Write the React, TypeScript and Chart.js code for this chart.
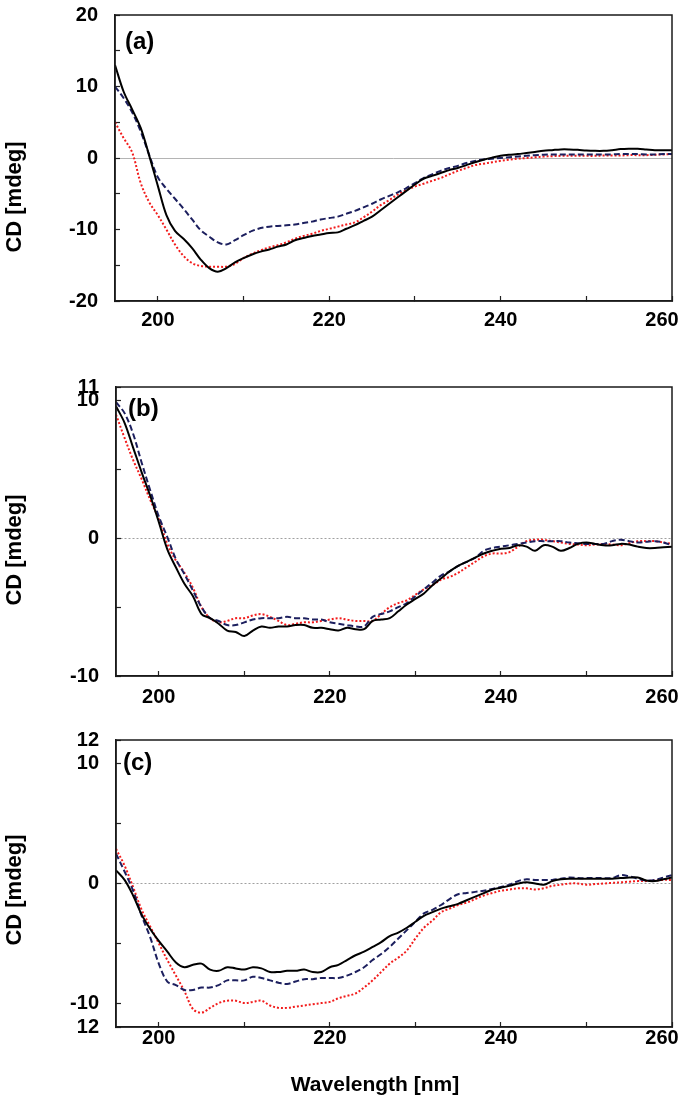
import React, { useEffect, useRef } from 'react';
import { Chart, registerables } from 'chart.js';

Chart.register(...registerables);

const FONT = "'Liberation Sans', Arial, Helvetica, sans-serif";

// Wavelength grid (nm)
const WAVELENGTHS = [
  195, 196, 197, 198, 199, 200, 201, 202, 203, 204,
  205, 206, 207, 208, 209, 210, 211, 212, 213, 214,
  215, 216, 217, 218, 219, 220, 221, 222, 223, 224,
  225, 226, 227, 228, 229, 230, 231, 232, 233, 234,
  235, 236, 237, 238, 239, 240, 241, 242, 243, 244,
  245, 246, 247, 248, 249, 250, 251, 252, 253, 254,
  255, 256, 257, 258, 259, 260,
];

const X_TICKS = [200, 210, 220, 230, 240, 250, 260];
const X_TICK_LABELS = ['200', '', '220', '', '240', '', '260\u2002\u2002'];

// Panel (a)
const A_BLACK = [
  13.0, 9.3, 6.8, 4.2, 0.3, -3.9, -8.0, -10.2, -11.3, -12.6,
  -14.2, -15.4, -15.9, -15.4, -14.6, -14.0, -13.5, -13.1, -12.8, -12.4,
  -12.1, -11.5, -11.2, -10.9, -10.7, -10.5, -10.4, -9.9, -9.4, -8.8,
  -8.2, -7.3, -6.4, -5.5, -4.6, -3.7, -2.9, -2.5, -2.1, -1.7,
  -1.4, -1.0, -0.6, -0.25, 0.05, 0.3, 0.45, 0.55, 0.7, 0.85,
  1.0, 1.1, 1.2, 1.2, 1.15, 1.05, 1.0, 1.0, 1.1, 1.25,
  1.3, 1.3, 1.2, 1.1, 1.1, 1.1,
];
const A_NAVY = [
  10.0, 8.4, 6.4, 3.7, 0.4, -2.7, -4.3, -5.7, -7.1, -8.6,
  -10.1, -11.0, -11.8, -12.1, -11.5, -10.8, -10.2, -9.8, -9.6, -9.5,
  -9.4, -9.3, -9.1, -8.9, -8.6, -8.4, -8.2, -7.8, -7.4, -6.9,
  -6.4, -5.8, -5.3, -4.8, -4.2, -3.5, -2.8, -2.3, -1.8, -1.4,
  -1.1, -0.7, -0.4, -0.2, -0.1, 0.0, 0.1, 0.2, 0.3, 0.4,
  0.45, 0.5, 0.5, 0.5, 0.5, 0.5, 0.5, 0.5, 0.5, 0.55,
  0.55, 0.55, 0.5, 0.5, 0.55, 0.55,
];
const A_RED = [
  5.0, 2.8, 0.8, -3.5, -6.2, -8.0, -10.0, -12.1, -13.7, -14.7,
  -15.1, -15.2, -15.2, -15.2, -14.8, -14.0, -13.4, -12.9, -12.5, -12.2,
  -11.8, -11.3, -10.9, -10.6, -10.2, -9.9, -9.6, -9.3, -9.0, -8.3,
  -7.5, -6.6, -5.9, -5.1, -4.5, -4.0, -3.6, -3.2, -2.8, -2.3,
  -1.8, -1.4, -1.0, -0.8, -0.6, -0.4, -0.25, -0.1, 0.0, 0.1,
  0.2, 0.25, 0.3, 0.3, 0.3, 0.3, 0.3, 0.35, 0.35, 0.35,
  0.4, 0.4, 0.4, 0.45, 0.5, 0.55,
];
const A_Y_TICKS = [-20, -15, -10, -5, 0, 5, 10, 15, 20];
const A_Y_LABELS = ['-20', '', '-10', '', '0', '', '10', '', '20'];

// Panel (b)
const B_BLACK = [
  9.6, 8.4, 6.6, 4.8, 3.1, 1.2, -0.8, -2.1, -3.3, -4.2,
  -5.5, -5.8, -6.2, -6.7, -6.8, -7.1, -6.7, -6.4, -6.5, -6.4,
  -6.4, -6.3, -6.3, -6.5, -6.5, -6.6, -6.7, -6.5, -6.6, -6.6,
  -6.0, -5.9, -5.8, -5.3, -4.8, -4.4, -4.0, -3.4, -2.9, -2.4,
  -2.0, -1.7, -1.4, -1.1, -0.9, -0.75, -0.7, -0.5, -0.6, -0.9,
  -0.5, -0.6, -0.9, -0.7, -0.4, -0.3, -0.4, -0.5, -0.5, -0.4,
  -0.45, -0.6, -0.7, -0.7, -0.65, -0.6,
];
const B_NAVY = [
  9.9, 9.1, 7.6, 5.5, 3.5, 1.6, 0.1, -1.5, -2.6, -3.8,
  -5.0, -5.8, -6.0, -6.3, -6.3, -6.1, -5.9, -5.8, -5.8, -5.8,
  -5.7, -5.8, -5.8, -5.9, -5.9, -6.1, -6.2, -6.3, -6.4, -6.4,
  -5.7, -5.5, -5.3, -5.0, -4.7, -4.2, -3.7, -3.2, -2.7, -2.4,
  -2.0, -1.7, -1.4, -0.9, -0.7, -0.6, -0.5, -0.4, -0.3, -0.2,
  -0.2, -0.2, -0.2, -0.3, -0.35, -0.4, -0.4, -0.4, -0.2, -0.1,
  -0.2, -0.3, -0.25, -0.2, -0.3, -0.5,
];
const B_RED = [
  9.0, 7.3, 5.7, 4.3, 2.8, 1.4, -0.4, -1.6, -2.5, -3.6,
  -5.0, -5.8, -6.1, -6.0, -5.8, -5.8, -5.6, -5.5, -5.7, -6.0,
  -6.3, -6.2, -6.1, -6.1, -6.0, -5.9, -5.8, -5.9, -6.0, -6.0,
  -6.0, -5.5, -5.0, -4.7, -4.5, -4.1, -3.7, -3.4, -3.0, -2.8,
  -2.5, -2.1, -1.7, -1.3, -1.1, -1.1, -1.0, -0.6, -0.2, -0.1,
  -0.1, -0.2, -0.3, -0.4, -0.45, -0.5, -0.45, -0.4, -0.45, -0.5,
  -0.35, -0.2, -0.2, -0.2, -0.3, -0.4,
];
const B_Y_TICKS = [-10, -5, 0, 5, 10, 11];
const B_Y_LABELS = ['-10', '', '0', '', '10', '11'];

// Panel (c)
const C_BLACK = [
  1.1, 0.3, -1.0, -2.6, -3.8, -4.8, -5.7, -6.6, -7.0, -6.8,
  -6.7, -7.2, -7.3, -7.0, -7.1, -7.2, -7.0, -7.1, -7.4, -7.4,
  -7.3, -7.3, -7.2, -7.4, -7.4, -7.0, -6.8, -6.4, -6.0, -5.7,
  -5.3, -4.9, -4.4, -4.1, -3.7, -3.2, -2.7, -2.4, -2.1, -1.9,
  -1.7, -1.4, -1.1, -0.8, -0.5, -0.35, -0.2, 0.0, 0.1, 0.0,
  -0.1, 0.2, 0.35, 0.4, 0.4, 0.4, 0.4, 0.4, 0.4, 0.45,
  0.5, 0.5, 0.25, 0.2, 0.35, 0.5,
];
const C_NAVY = [
  2.5, 1.0, -0.6, -2.7, -4.5, -6.7, -8.2, -8.5, -8.9, -8.9,
  -8.7, -8.7, -8.5, -8.1, -8.1, -8.1, -7.8, -7.9, -8.1, -8.3,
  -8.4, -8.2, -8.0, -8.0, -7.9, -7.9, -7.9, -7.7, -7.4, -7.0,
  -6.4, -5.9, -5.3, -4.6, -3.9, -3.2, -2.5, -2.2, -1.8, -1.3,
  -0.9, -0.8, -0.7, -0.6, -0.45, -0.3, -0.1, 0.2, 0.35, 0.3,
  0.3, 0.3, 0.4, 0.5, 0.45, 0.45, 0.45, 0.45, 0.45, 0.7,
  0.6, 0.4, 0.25, 0.3, 0.5, 0.7,
];
const C_RED = [
  2.9, 1.5, -0.3, -2.2, -3.6, -5.0, -6.4, -7.7, -9.0, -10.5,
  -10.8, -10.4, -10.0, -9.8, -9.8, -10.0, -9.9, -9.8, -10.2, -10.4,
  -10.4, -10.3, -10.2, -10.1, -10.0, -9.9, -9.6, -9.4, -9.2, -8.7,
  -8.1, -7.4, -6.7, -6.2, -5.6, -4.6, -3.7, -3.1, -2.4, -2.1,
  -1.8, -1.6, -1.3, -1.0, -0.8, -0.6, -0.5, -0.4, -0.4, -0.5,
  -0.4, -0.2, -0.1, 0.0, 0.0, -0.1, -0.05, 0.0, 0.05, 0.1,
  0.15, 0.2, 0.2, 0.25, 0.3, 0.3,
];
const C_Y_TICKS = [-12, -10, -5, 0, 5, 10, 12];
const C_Y_LABELS = ['12', '-10', '', '0', '', '10', '12'];

type PanelCfg = {
  top: number;
  height: number;
  padTop: number;
  axisLeft: number;
  xAxisH: number;
  xPad: number;
  yMin: number;
  yMax: number;
  yTicks: number[];
  yLabels: string[];
  black: number[];
  navy: number[];
  red: number[];
  zeroColor: string;
  zeroDash: number[];
};

const PANELS: PanelCfg[] = [
  {
    top: 0, height: 340, padTop: 15, axisLeft: 115, xAxisH: 39, xPad: 12,
    yMin: -20, yMax: 20, yTicks: A_Y_TICKS, yLabels: A_Y_LABELS,
    black: A_BLACK, navy: A_NAVY, red: A_RED, zeroColor: '#b4b4b4', zeroDash: [],
  },
  {
    top: 340, height: 370, padTop: 47, axisLeft: 116, xAxisH: 34, xPad: 14,
    yMin: -10, yMax: 11, yTicks: B_Y_TICKS, yLabels: B_Y_LABELS,
    black: B_BLACK, navy: B_NAVY, red: B_RED, zeroColor: '#a0a0a0', zeroDash: [2, 2],
  },
  {
    top: 710, height: 387, padTop: 30, axisLeft: 116, xAxisH: 70, xPad: 4,
    yMin: -12, yMax: 12, yTicks: C_Y_TICKS, yLabels: C_Y_LABELS,
    black: C_BLACK, navy: C_NAVY, red: C_RED, zeroColor: '#a0a0a0', zeroDash: [2, 2],
  },
];

const framePlugin = {
  id: 'frame',
  afterDraw(chart: any) {
    const { ctx, chartArea } = chart;
    const { left, top, right, bottom } = chartArea;
    ctx.save();
    ctx.strokeStyle = '#1a1a1a';
    ctx.lineWidth = 1.5;
    ctx.strokeRect(left, top, right - left, bottom - top);
    ctx.restore();
  },
};

function Panel({ cfg }: { cfg: PanelCfg }) {
  const ref = useRef<HTMLCanvasElement | null>(null);
  useEffect(() => {
    if (!ref.current) return;
    const pts = (arr: number[]) => WAVELENGTHS.map((x, i) => ({ x, y: arr[i] }));
    const tickFont = { family: FONT, size: 20, weight: 'bold' as const };
    const chart = new Chart(ref.current, {
      type: 'line',
      data: {
        datasets: [
          { data: pts(cfg.black), borderColor: '#000000', borderWidth: 2, pointRadius: 0, tension: 0.35, fill: false },
          { data: pts(cfg.navy), borderColor: '#1c1f5e', borderWidth: 2, borderDash: [6, 3], pointRadius: 0, tension: 0.35, fill: false },
          { data: pts(cfg.red), borderColor: '#f21c1c', borderWidth: 2, borderDash: [2, 2], pointRadius: 0, tension: 0.35, fill: false },
        ],
      },
      options: {
        animation: false,
        responsive: false,
        devicePixelRatio: 1,
        layout: { padding: { top: cfg.padTop, right: 8, left: 0, bottom: 0 } },
        plugins: { legend: { display: false }, tooltip: { enabled: false } },
        scales: {
          x: {
            type: 'linear',
            min: 195,
            max: 260,
            afterBuildTicks: (s: any) => { s.ticks = X_TICKS.map((v) => ({ value: v })); },
            afterFit: (s: any) => { s.height = cfg.xAxisH; s.paddingLeft = 0; s.paddingRight = 0; },
            ticks: {
              autoSkip: false, maxRotation: 0, minRotation: 0, padding: cfg.xPad,
              color: '#000', font: tickFont,
              callback: (_v: any, i: number) => X_TICK_LABELS[i],
            },
            grid: { drawOnChartArea: false, tickLength: -5, tickColor: '#222', tickWidth: 1.2 },
            border: { display: true, color: '#1a1a1a', width: 1.5 },
          },
          y: {
            type: 'linear',
            min: cfg.yMin,
            max: cfg.yMax,
            afterBuildTicks: (s: any) => { s.ticks = cfg.yTicks.map((v) => ({ value: v })); },
            afterFit: (s: any) => { s.width = cfg.axisLeft; s.paddingTop = 0; s.paddingBottom = 0; },
            ticks: {
              autoSkip: false, padding: 22, color: '#000', font: tickFont,
              callback: (_v: any, i: number) => cfg.yLabels[i],
            },
            grid: {
              drawOnChartArea: true,
              color: (c: any) => (c.tick && c.tick.value === 0 ? cfg.zeroColor : 'rgba(0,0,0,0)'),
              lineWidth: 1,
              tickLength: -5,
              tickColor: '#222',
              tickWidth: 1.2,
            },
            border: { display: true, color: '#1a1a1a', width: 1.5, dash: cfg.zeroDash },
          },
        },
      },
      plugins: [framePlugin],
    } as any);
    return () => chart.destroy();
  }, [cfg]);
  return (
    <canvas
      ref={ref}
      width={680}
      height={cfg.height}
      style={{ position: 'absolute', left: 0, top: cfg.top, width: 680, height: cfg.height }}
    />
  );
}

const textBase: React.CSSProperties = {
  position: 'absolute',
  fontFamily: FONT,
  fontWeight: 'bold',
  color: '#000',
  whiteSpace: 'nowrap',
  lineHeight: 1,
};

const Y_TITLE = 'CD [mdeg]';
const X_TITLE = 'Wavelength [nm]';
const PANEL_LABELS = ['(a)', '(b)', '(c)'];

export default function App() {
  const yTitleCenters = [197, 550, 890];
  const panelLabelPos = [
    { left: 125, top: 29 },
    { left: 128, top: 396 },
    { left: 123, top: 750 },
  ];
  return (
    <div style={{ position: 'absolute', left: 0, top: 0, width: 680, height: 1097, overflow: 'hidden', background: '#fff' }}>
      {PANELS.map((p, i) => (
        <Panel key={i} cfg={p} />
      ))}
      {yTitleCenters.map((cy, i) => (
        <div
          key={'yt' + i}
          style={{ ...textBase, fontSize: 22, left: 14, top: cy, transform: 'translate(-50%, -50%) rotate(-90deg)' }}
        >
          {Y_TITLE}
        </div>
      ))}
      {PANEL_LABELS.map((t, i) => (
        <div key={'pl' + i} style={{ ...textBase, fontSize: 24, left: panelLabelPos[i].left, top: panelLabelPos[i].top }}>
          {t}
        </div>
      ))}
      <div style={{ ...textBase, fontSize: 21, left: 375, top: 1083, transform: 'translate(-50%, -50%)' }}>{X_TITLE}</div>
    </div>
  );
}
